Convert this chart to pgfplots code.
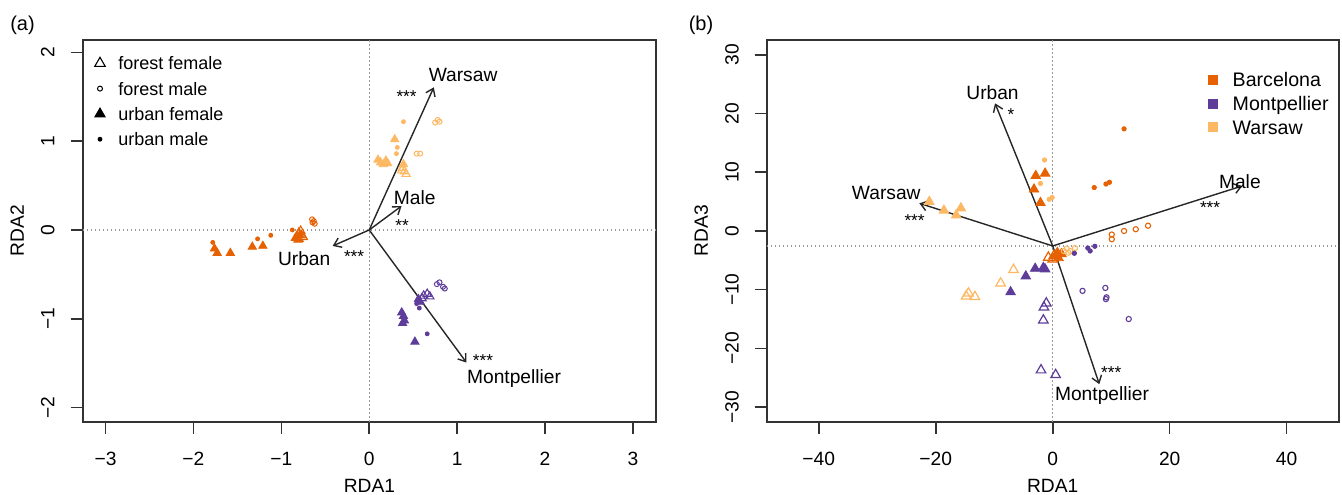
\documentclass[border=0pt]{standalone}
\usepackage{fontspec}
\setmainfont{Liberation Sans}
\usepackage{pgfplots}
\pgfplotsset{compat=1.18}
\usetikzlibrary{arrows.meta}
\definecolor{bcn}{HTML}{E66101}
\definecolor{mtp}{HTML}{5E3C99}
\definecolor{war}{HTML}{FDB863}
\definecolor{axc}{HTML}{333333}
\definecolor{dotc}{HTML}{999999}
\pgfplotsset{
 rda/.style={
  scale only axis, clip=false,
  axis line style={line width=0.9pt, axc},
  tick align=outside, xtick pos=bottom, ytick pos=left,
  major tick length=6pt,
  tick style={line width=0.8pt, axc},
  tick label style={font=\fontsize{9.6}{11}\selectfont, inner sep=0pt, text height=6.9pt, text depth=0pt},
  xticklabel style={anchor=north},
  yticklabel style={rotate=90, anchor=south},
  xticklabel shift=8.86pt, yticklabel shift=7.9pt,
  legend cell align=left,
  legend image code/.code={\draw[##1] plot coordinates {(0pt,0pt)};},
 },
 ffa/.style={only marks, mark=triangle, mark size=2.4pt, mark options={line width=0.55pt}, forget plot},
 fma/.style={only marks, mark=o, mark size=1.25pt, mark options={line width=0.5pt}, forget plot},
 ufa/.style={only marks, mark=triangle*, mark size=2.4pt, forget plot},
 uma/.style={only marks, mark=*, mark size=1pt, forget plot},
 ffb/.style={only marks, mark=triangle, mark size=2.75pt, mark options={line width=0.6pt}, forget plot},
 fmb/.style={only marks, mark=o, mark size=1.3pt, mark options={line width=0.55pt}, forget plot},
 ufb/.style={only marks, mark=triangle*, mark size=2.75pt, forget plot},
 umb/.style={only marks, mark=*, mark size=1.1pt, forget plot},
 arr/.style={-{Straight Barb[length=3.5pt,width=5pt,line width=0.7pt]}, line width=0.7pt, color=black!85, forget plot},
 dotline/.style={dotc, line width=0.7pt, dash pattern=on 0.7pt off 1.3pt, forget plot},
}
\tikzset{
 lab/.style={font=\fontsize{9.6}{11}\selectfont, anchor=base, yshift=-3.44pt, inner sep=0pt},
 star/.style={font=\fontsize{8.6}{10}\selectfont, anchor=base, yshift=-5pt, inner sep=0pt},
 big/.style={font=\fontsize{9.6}{11}\selectfont, inner sep=0pt},
}
\begin{document}
\begin{tikzpicture}
\path[use as bounding box] (0,0) rectangle (671pt,247pt);
% ---------------- panel (a) ----------------
\begin{axis}[rda, at={(41.35pt,36.15pt)}, anchor=south west,
  width=286.5pt, height=190.85pt,
  xmin=-3.26, xmax=3.26, ymin=-2.16, ymax=2.14,
  xtick={-3,-2,-1,0,1,2,3}, xticklabels={−3,−2,−1,0,1,2,3},
  ytick={-2,-1,0,1,2}, yticklabels={−2,−1,0,1,2},
  legend style={at={(axis description cs:0,1)}, anchor=north west, xshift=6.05pt, yshift=-8.35pt,
    draw=none, fill=none, inner sep=0pt, outer sep=0pt, row sep=6.05pt, column sep=6.55pt,
    font=\fontsize{9}{10}\selectfont, nodes={inner sep=0pt, text height=6.6pt, text depth=0pt}},
]
\addlegendimage{only marks, mark=triangle, mark size=3pt, black, mark options={line width=0.55pt}}
\addlegendentry{forest female}
\addlegendimage{only marks, mark=o, mark size=1.25pt, black, mark options={line width=0.5pt}}
\addlegendentry{forest male}
\addlegendimage{only marks, mark=triangle*, mark size=3pt, black}
\addlegendentry{urban female}
\addlegendimage{only marks, mark=*, mark size=1pt, black}
\addlegendentry{urban male}
\addplot[dotline] coordinates {(0,-2.16) (0,2.14)};
\addplot[dotline] coordinates {(-3.26,0) (3.26,0)};
% Barcelona
\addplot[ufa, bcn] coordinates {(-1.76,-0.21) (-1.73,-0.26) (-1.58,-0.26) (-1.33,-0.19) (-1.21,-0.18) (-0.84,-0.09) (-0.81,-0.11) (-0.79,-0.06)};
\addplot[ffa, bcn] coordinates {(-0.80,-0.03) (-0.77,-0.06) (-0.80,-0.10) (-0.75,-0.08) (-0.78,-0.01)};
\addplot[fma, bcn] coordinates {(-0.65,0.12) (-0.63,0.10) (-0.62,0.07) (-0.645,0.085)};
\addplot[uma, bcn] coordinates {(-1.78,-0.14) (-1.27,-0.10) (-1.12,-0.06) (-0.875,0.0)};
% Warsaw
\addplot[uma, war] coordinates {(0.39,1.22) (0.32,0.93) (0.31,0.86)};
\addplot[fma, war] coordinates {(0.75,1.21) (0.78,1.24) (0.80,1.22) (0.54,0.86) (0.58,0.86)};
\addplot[ufa, war] coordinates {(0.29,1.02) (0.10,0.79) (0.13,0.76) (0.16,0.74) (0.19,0.78) (0.21,0.75) (0.39,0.74)};
\addplot[ffa, war] coordinates {(0.38,0.70) (0.40,0.66) (0.42,0.63) (0.37,0.67)};
% Montpellier
\addplot[fma, mtp] coordinates {(0.77,-0.61) (0.80,-0.59) (0.84,-0.64) (0.86,-0.66)};
\addplot[ffa, mtp] coordinates {(0.62,-0.74) (0.66,-0.72) (0.69,-0.75) (0.60,-0.77)};
\addplot[ufa, mtp] coordinates {(0.56,-0.78) (0.58,-0.81) (0.37,-0.93) (0.39,-0.97) (0.40,-1.02) (0.38,-1.05) (0.52,-1.26)};
\addplot[uma, mtp] coordinates {(0.54,-0.83) (0.57,-0.88) (0.66,-1.17)};
% arrows
\addplot[arr] coordinates {(0,0) (0.735,1.607)};
\addplot[arr] coordinates {(0,0) (0.368,0.27)};
\addplot[arr] coordinates {(0,0) (-0.416,-0.18)};
\addplot[arr] coordinates {(0,0) (1.107,-1.494)};
\node[lab] at (axis cs:1.068,1.751) {Warsaw};
\node[star] at (axis cs:0.425,1.545) {***};
\node[lab] at (axis cs:0.517,0.368) {Male};
\node[star] at (axis cs:0.375,0.094) {**};
\node[lab] at (axis cs:-0.74,-0.319) {Urban};
\node[star] at (axis cs:-0.172,-0.257) {***};
\node[lab] at (axis cs:1.648,-1.650) {Montpellier};
\node[star] at (axis cs:1.295,-1.425) {***};
\end{axis}
% ---------------- panel (b) ----------------
\begin{axis}[rda, at={(383.35pt,36.15pt)}, anchor=south west,
  width=286pt, height=190.85pt,
  xmin=-48.9, xmax=48.9, ymin=-32.49, ymax=32.54,
  xtick={-40,-20,0,20,40}, xticklabels={−40,−20,0,20,40},
  ytick={-30,-20,-10,0,10,20,30}, yticklabels={−30,−20,−10,0,10,20,30},
  legend style={at={(axis description cs:0,1)}, anchor=north west, xshift=221.05pt, yshift=-16.5pt,
    draw=none, fill=none, inner sep=0pt, outer sep=0pt, row sep=4.85pt, column sep=7.45pt,
    font=\fontsize{9.8}{11}\selectfont, nodes={inner sep=0pt, text height=7pt, text depth=0pt}},
]
\addlegendimage{only marks, mark=square*, mark size=2.25pt, bcn}
\addlegendentry{Barcelona}
\addlegendimage{only marks, mark=square*, mark size=2.25pt, mtp}
\addlegendentry{Montpellier}
\addlegendimage{only marks, mark=square*, mark size=2.25pt, war}
\addlegendentry{Warsaw}
\addplot[dotline] coordinates {(0,-32.49) (0,32.54)};
\addplot[dotline] coordinates {(-48.9,-2.55) (48.9,-2.55)};
% Barcelona
\addplot[umb, bcn] coordinates {(12.2,17.4) (7.1,7.4) (9.1,8.0) (9.7,8.3)};
\addplot[fmb, bcn] coordinates {(10.1,-0.6) (10.1,-1.4) (12.2,0.0) (14.2,0.3) (16.3,0.9)};
\addplot[ufb, bcn] coordinates {(-2.9,9.4) (-1.3,9.8) (-3.2,7.1) (-2.1,4.8) (0.5,-4.2) (1.0,-4.6) (1.5,-3.9) (0.8,-3.7)};
\addplot[ffb, bcn] coordinates {(-0.75,-4.5) (0.2,-4.2) (0.0,-4.8)};
% Warsaw
\addplot[umb, war] coordinates {(-1.4,12.1) (-2.1,8.1) (-0.6,5.4) (-0.1,5.7)};
\addplot[ufb, war] coordinates {(-21.1,5.0) (-18.6,3.5) (-16.5,2.7) (-15.7,3.9)};
\addplot[ffb, war] coordinates {(-6.7,-6.6) (-8.9,-8.9) (-14.8,-11.1) (-13.3,-11.2) (-14.4,-10.6)};
\addplot[fmb, war] coordinates {(2.4,-3.0) (3.0,-3.4) (3.8,-2.9) (2.7,-3.7) (1.9,-3.4)};
% Montpellier
\addplot[umb, mtp] coordinates {(3.7,-3.8) (6.0,-2.9) (6.4,-3.4) (7.2,-2.6)};
\addplot[ufb, mtp] coordinates {(-3.0,-6.4) (-1.6,-6.25) (-1.3,-6.5) (-4.6,-7.7) (-7.2,-10.4)};
\addplot[ffb, mtp] coordinates {(-1.1,-12.3) (-1.5,-13.0) (-1.6,-15.2) (-2.0,-23.7) (0.5,-24.5)};
\addplot[fmb, mtp] coordinates {(5.1,-10.2) (9.0,-9.7) (9.1,-11.6) (9.2,-11.3) (13.0,-15.0)};
% arrows
\addplot[arr] coordinates {(0,-2.55) (-9.86,21.75)};
\addplot[arr] coordinates {(0,-2.55) (-22.8,4.72)};
\addplot[arr] coordinates {(0,-2.55) (32.4,7.67)};
\addplot[arr] coordinates {(0,-2.55) (7.97,-26.1)};
\node[lab] at (axis cs:-10.29,23.56) {Urban};
\node[star] at (axis cs:-7.13,20.6) {*};
\node[lab] at (axis cs:-28.46,6.47) {Warsaw};
\node[star] at (axis cs:-23.62,2.44) {***};
\node[lab] at (axis cs:32.0,8.4) {Male};
\node[star] at (axis cs:26.9,4.6) {***};
\node[lab] at (axis cs:8.43,-27.7) {Montpellier};
\node[star] at (axis cs:10.0,-23.4) {***};
\end{axis}
% labels outside
\node[big, anchor=base] at (184.7pt,0.6pt) {RDA1};
\node[big, anchor=base] at (526.35pt,0.6pt) {RDA1};
\node[big, rotate=90, text height=6.9pt, text depth=0pt] at (8.5pt,131.6pt) {RDA2};
\node[big, rotate=90, text height=6.9pt, text depth=0pt] at (350.5pt,131.6pt) {RDA3};
\node[font=\fontsize{10}{12}\selectfont, anchor=base, inner sep=0pt] at (11.25pt,231.6pt) {(a)};
\node[font=\fontsize{10}{12}\selectfont, anchor=base, inner sep=0pt] at (350.5pt,231.6pt) {(b)};
\end{tikzpicture}
\end{document}
